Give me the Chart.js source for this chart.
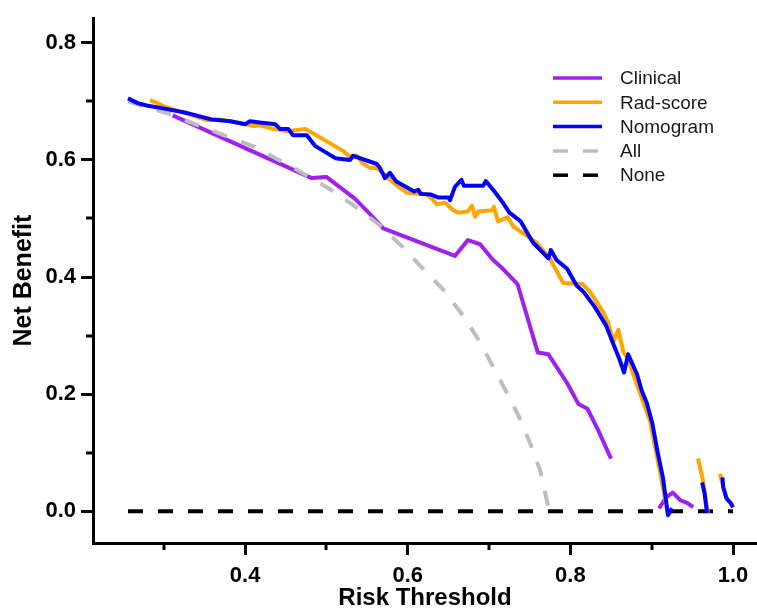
<!DOCTYPE html>
<html lang="en">
<head>
<meta charset="UTF-8">
<title>Decision Curve Analysis</title>
<style>
    body { margin: 0; background: #fff; }
    #wrap { width: 757px; height: 610px; }
</style>
</head>
<body>
<div id="wrap"><canvas id="dca" width="757" height="610"></canvas></div>
<script src="https://cdn.jsdelivr.net/npm/chart.js"></script>
<script>
// axis ticks
const xTicks = [0.4, 0.6, 0.8, 1.0];
const xTickLabels = ['0.4', '0.6', '0.8', '1.0'];
const xMinor = [0.3, 0.5, 0.7, 0.9];
const yTicks = [0, 0.2, 0.4, 0.6, 0.8];
const yTickLabels = ['0.0', '0.2', '0.4', '0.6', '0.8'];
const yMinor = [0.1, 0.3, 0.5, 0.7];

const seriesNames = ['Clinical', 'Rad-score', 'Nomogram', 'All', 'None'];

// values (null = curve not defined)
const clinicalX = [0.311, 0.482, 0.500, 0.535, 0.554, 0.570, 0.658, 0.674, 0.689, 0.705, 0.717, 0.735, 0.760, 0.773, 0.796, 0.810, 0.821, 0.833, 0.850,
    0.88, 0.909, 0.918, 0.926, 0.935, 0.944, 0.951];
const clinicalY = [0.676, 0.569, 0.571, 0.534, 0.507, 0.483, 0.436, 0.463, 0.456, 0.429, 0.414, 0.388, 0.271, 0.268, 0.219, 0.183, 0.175, 0.142, 0.090,
    null, 0.005, 0.024, 0.032, 0.019, 0.014, 0.007];

const radX = [0.283, 0.292, 0.299, 0.353, 0.369, 0.394, 0.410, 0.418, 0.434, 0.452, 0.474, 0.495, 0.521, 0.527, 0.538, 0.544, 0.554, 0.562, 0.569,
    0.587, 0.599, 0.624, 0.631, 0.636, 0.646, 0.655, 0.662, 0.674, 0.679, 0.683, 0.687, 0.704, 0.706, 0.711, 0.723, 0.730, 0.751, 0.759,
    0.775, 0.791, 0.815, 0.824, 0.840, 0.846, 0.853, 0.859, 0.865, 0.871, 0.883, 0.898, 0.910, 0.920,
    0.94, 0.957, 0.963, 0.969,
    0.976, 0.984, 0.988, 0.992, 0.997, 1.0];
const radY = [0.702, 0.697, 0.692, 0.668, 0.669, 0.663, 0.658, 0.659, 0.653, 0.649, 0.653, 0.636, 0.615, 0.607, 0.607, 0.595, 0.586, 0.586, 0.578,
    0.556, 0.544, 0.541, 0.532, 0.524, 0.527, 0.515, 0.510, 0.512, 0.522, 0.503, 0.512, 0.514, 0.520, 0.495, 0.502, 0.486, 0.466, 0.458,
    0.431, 0.390, 0.388, 0.375, 0.341, 0.324, 0.290, 0.310, 0.273, 0.259, 0.212, 0.154, 0.069, -0.005,
    null, 0.090, 0.053, -0.003,
    null, 0.064, 0.041, 0.022, 0.014, 0.007];

const nomoX = [0.256, 0.268, 0.279, 0.299, 0.329, 0.359, 0.382, 0.400, 0.406, 0.418, 0.437, 0.443, 0.453, 0.459, 0.476, 0.486, 0.511, 0.529, 0.533,
    0.562, 0.566, 0.572, 0.578, 0.586, 0.608, 0.613, 0.616, 0.628, 0.637, 0.650, 0.652, 0.658, 0.666, 0.669, 0.693, 0.696, 0.705, 0.717,
    0.725, 0.739, 0.748, 0.754, 0.773, 0.776, 0.783, 0.796, 0.805, 0.808, 0.816, 0.830, 0.844, 0.851, 0.860, 0.866, 0.871, 0.882, 0.888,
    0.894, 0.901, 0.907, 0.914, 0.920, 0.925,
    0.94, 0.962, 0.965, 0.968,
    0.976, 0.987, 0.988, 0.992, 0.997, 1.0];
const nomoY = [0.705, 0.697, 0.693, 0.688, 0.680, 0.669, 0.666, 0.661, 0.666, 0.664, 0.661, 0.653, 0.653, 0.642, 0.642, 0.624, 0.603, 0.600, 0.607,
    0.593, 0.586, 0.569, 0.578, 0.563, 0.546, 0.549, 0.542, 0.541, 0.536, 0.536, 0.531, 0.554, 0.566, 0.556, 0.556, 0.564, 0.549, 0.527,
    0.510, 0.495, 0.473, 0.459, 0.432, 0.446, 0.429, 0.414, 0.392, 0.385, 0.375, 0.349, 0.317, 0.292, 0.261, 0.237, 0.268, 0.234, 0.205,
    0.185, 0.149, 0.103, 0.056, -0.007, 0.005,
    null, 0.049, 0.031, -0.003,
    null, 0.058, 0.041, 0.022, 0.014, 0.007];

const allX = [0.256, 0.308, 0.361, 0.412, 0.464, 0.508, 0.539, 0.566, 0.594, 0.619, 0.644, 0.667, 0.687, 0.705, 0.722, 0.738, 0.753, 0.763, 0.774];
const allY = [0.700, 0.678, 0.649, 0.622, 0.583, 0.547, 0.517, 0.488, 0.451, 0.414, 0.378, 0.336, 0.293, 0.247, 0.202, 0.158, 0.108, 0.069, 0.0];

const noneX = [0.256, 1.0];
const noneY = [0, 0];

const toPoints = (xs, ys) => xs.map((x, i) => ({ x: x, y: ys[i] }));

const FONT = '"Liberation Sans", Arial, sans-serif';

// short ticks between the labelled ones, placed through the chart's scales
const minorTicks = {
    id: 'minorTicks',
    afterDraw(chart) {
        const ctx = chart.ctx;
        const xs = chart.scales.x, ys = chart.scales.y;
        ctx.save();
        ctx.strokeStyle = '#000';
        ctx.lineWidth = 3;
        ctx.beginPath();
        xMinor.forEach(v => {
            const px = Math.round(xs.getPixelForValue(v));
            ctx.moveTo(px, xs.top);
            ctx.lineTo(px, xs.top + 7);
        });
        yMinor.forEach(v => {
            const py = Math.round(ys.getPixelForValue(v));
            ctx.moveTo(ys.right, py);
            ctx.lineTo(ys.right - 7, py);
        });
        ctx.stroke();
        ctx.restore();
    }
};

// legend inside the plot, upper right
const insideLegend = {
    id: 'insideLegend',
    afterDraw(chart) {
        const ctx = chart.ctx;
        const left = 553, top = 78, rowH = 24.3, lineLen = 49;
        ctx.save();
        ctx.font = '19px ' + FONT;
        ctx.textBaseline = 'middle';
        chart.data.datasets.forEach((ds, i) => {
            const y = top + i * rowH;
            ctx.strokeStyle = ds.borderColor;
            ctx.lineWidth = 3.5;
            ctx.setLineDash(ds.borderDash || []);
            ctx.beginPath();
            ctx.moveTo(left, y);
            ctx.lineTo(left + lineLen, y);
            ctx.stroke();
            ctx.setLineDash([]);
            ctx.fillStyle = '#1a1a1a';
            ctx.fillText(ds.label, 620, y + 1);
        });
        ctx.restore();
    }
};

const ctx = document.getElementById('dca').getContext('2d');
new Chart(ctx, {
    type: 'line',
    data: {
        datasets: [
            { label: seriesNames[0], data: toPoints(clinicalX, clinicalY), borderColor: '#a020f0', order: 3 },
            { label: seriesNames[1], data: toPoints(radX, radY), borderColor: '#ffa500', order: 1 },
            { label: seriesNames[2], data: toPoints(nomoX, nomoY), borderColor: '#0000ff', order: 0 },
            { label: seriesNames[3], data: toPoints(allX, allY), borderColor: '#bebebe', borderDash: [15, 15], order: 2 },
            { label: seriesNames[4], data: toPoints(noneX, noneY), borderColor: '#000000', borderDash: [15, 15], order: 4 }
        ]
    },
    options: {
        responsive: false,
        animation: false,
        spanGaps: false,
        elements: {
            line: { borderWidth: 4, tension: 0, fill: false, borderJoinStyle: 'round' },
            point: { radius: 0 }
        },
        layout: { padding: { top: 14, right: 0, left: 0, bottom: 0 } },
        plugins: {
            legend: { display: false },
            tooltip: { enabled: false }
        },
        scales: {
            x: {
                type: 'linear',
                min: 0.213,
                max: 1.0295,
                afterBuildTicks: s => { s.ticks = xTicks.map(v => ({ value: v })); },
                afterFit: s => { s.height = 67; },
                border: { display: true, width: 3, color: '#000' },
                grid: { drawOnChartArea: false, drawTicks: true, tickLength: 12, tickWidth: 3, tickColor: '#000' },
                ticks: {
                    padding: 8,
                    color: '#000',
                    font: { family: FONT, size: 22, weight: 'bold' },
                    callback: (v, i) => xTickLabels[i]
                },
                title: {
                    display: true,
                    text: 'Risk Threshold',
                    color: '#000',
                    padding: { top: 0, bottom: 0 },
                    font: { family: FONT, size: 24, weight: 'bold', lineHeight: 1.0 }
                }
            },
            y: {
                type: 'linear',
                min: -0.0542,
                max: 0.842,
                afterBuildTicks: s => { s.ticks = yTicks.map(v => ({ value: v })); },
                afterFit: s => { s.width = 93; },
                border: { display: true, width: 3, color: '#000' },
                grid: { drawOnChartArea: false, drawTicks: true, tickLength: 12, tickWidth: 3, tickColor: '#000' },
                ticks: {
                    padding: 5,
                    color: '#000',
                    font: { family: FONT, size: 22, weight: 'bold' },
                    callback: (v, i) => yTickLabels[i]
                },
                title: {
                    display: true,
                    text: 'Net Benefit',
                    color: '#000',
                    padding: { top: 12, bottom: 0 },
                    font: { family: FONT, size: 25, weight: 'bold', lineHeight: 1.0 }
                }
            }
        }
    },
    plugins: [minorTicks, insideLegend]
});
</script>
</body>
</html>
